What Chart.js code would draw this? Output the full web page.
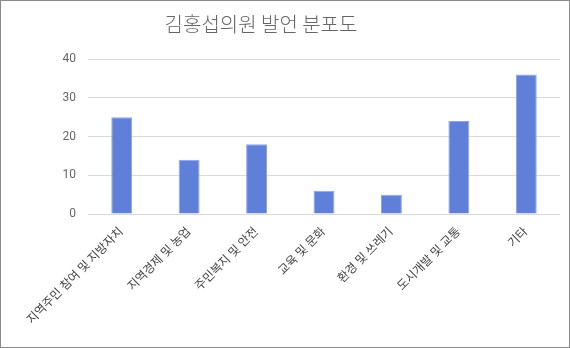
<!DOCTYPE html>
<html>
<head>
<meta charset="utf-8">
<script src="https://cdn.jsdelivr.net/npm/chart.js@4"></script>
<style>
    html, body { margin: 0; padding: 0; background: #fff; }
    #wrap {
        width: 570px;
        height: 348px;
        box-sizing: border-box;
        border: 1px solid #8a8a8a;
    }
</style>
</head>
<body>
<div id="wrap"><canvas id="chart" width="568" height="346"></canvas></div>
<script>
const titleText = '김홍섭의원 발언 분포도';
const categories = [
    '지역주민 참여 및 지방자치',
    '지역경제 및 농업',
    '주민복지 및 안전',
    '교육 및 문화',
    '환경 및 쓰레기',
    '도시개발 및 교통',
    '기타',
];
const counts = [25, 14, 18, 6, 5, 24, 36];
const yTicks = [0, 10, 20, 30, 40];

const fontFamily = "Roboto, 'Noto Sans CJK KR', sans-serif";

// title sits a little left of centre, so it is painted by hand
const titleDraw = {
    id: 'titleDraw',
    afterDraw(chart) {
        const ctx = chart.ctx;
        ctx.save();
        ctx.fillStyle = '#666';
        ctx.font = "300 20px 'Noto Sans CJK KR', sans-serif";
        ctx.textAlign = 'center';
        ctx.textBaseline = 'middle';
        ctx.fillText(titleText, 260, 23);
        ctx.restore();
    },
};

const ctx = document.getElementById('chart').getContext('2d');
new Chart(ctx, {
    type: 'bar',
    data: {
        labels: categories,
        datasets: [
            {
                label: '발언 수',
                data: counts,
                backgroundColor: '#5f7fd8',
                borderColor: '#8ea5e6',
                borderWidth: 1,
                barPercentage: 0.31,
                categoryPercentage: 1,
            },
        ],
    },
    options: {
        responsive: false,
        animation: false,
        layout: {
            padding: { top: 58, right: 9, bottom: 0, left: 0 },
        },
        plugins: {
            legend: { display: false },
            title: { display: false },
            tooltip: { enabled: false },
        },
        scales: {
            x: {
                grid: { display: false },
                border: { display: false },
                ticks: {
                    color: '#444',
                    font: { family: fontFamily, size: 12 },
                    minRotation: 45,
                    maxRotation: 45,
                    autoSkip: false,
                },
                afterFit(scale) { scale.height = 133; },
            },
            y: {
                min: 0,
                max: 40,
                afterBuildTicks(scale) {
                    scale.ticks = yTicks.map(v => ({ value: v }));
                },
                grid: { color: '#d9d9d9', drawTicks: false },
                border: { display: false },
                ticks: {
                    color: '#666',
                    padding: 12,
                    font: { family: fontFamily, size: 12 },
                },
                afterFit(scale) { scale.width = 87; },
            },
        },
    },
    plugins: [titleDraw],
});
</script>
</body>
</html>
